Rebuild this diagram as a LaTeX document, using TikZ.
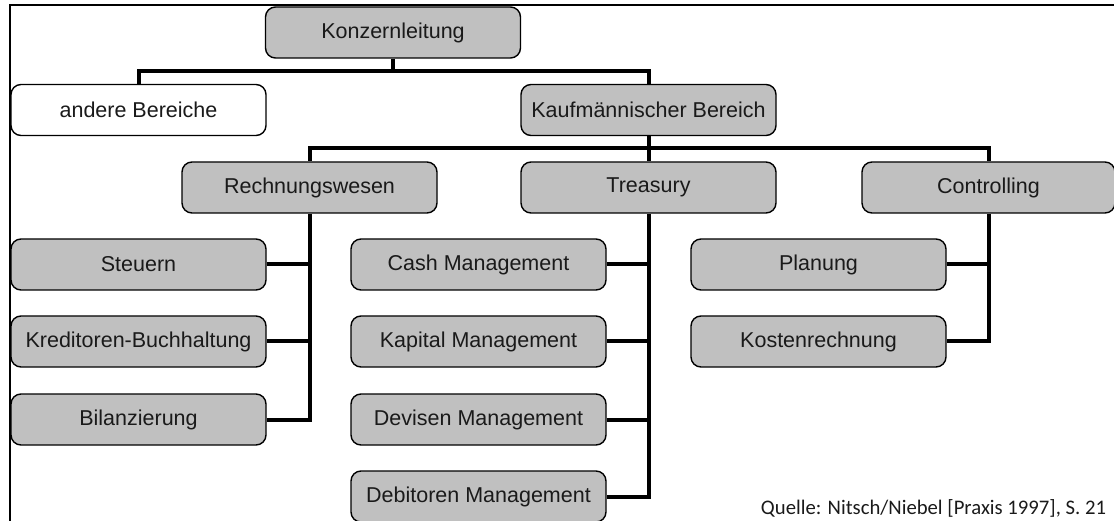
\documentclass[tikz,border=0pt]{standalone}
\usepackage{fontspec}
\setmainfont{Liberation Sans}
\newfontfamily\sourcefont{Carlito}
\definecolor{boxgray}{HTML}{C0C0C0}
\definecolor{inkgray}{HTML}{1A1A1A}
\begin{document}
\begin{tikzpicture}[x=1pt,y=-1pt,
  unit/.style={draw=black, line width=1.4pt, rounded corners=10pt,
    minimum width=255pt, minimum height=51pt, inner sep=0pt,
    fill=boxgray, text=inkgray, font=\fontsize{21.5}{25}\selectfont},
  plain/.style={unit, fill=white},
  link/.style={line width=4pt, draw=black}]
\useasboundingbox (0,0) rectangle (1114,521);

% frame
\draw[line width=2pt] (10,530) -- (10,5) -- (1120,5);

% top levels
\node[unit] (konz) at (393,32.5) {Konzernleitung};
\node[plain] (andere) at (138.5,110) {andere Bereiche};
\node[unit] (kauf) at (648.5,110) {Kaufmännischer Bereich};

\node[unit] (rech) at (309.5,187.5) {Rechnungswesen};
\node[unit] (treas) at (648.5,187.5) {Treasury};
\node[unit, minimum width=253pt] (contr) at (988.5,187.5) {Controlling};

% Rechnungswesen
\node[unit] (steuern) at (138.5,264.5) {Steuern};
\node[unit] (kred) at (138.5,341.5) {Kreditoren-Buchhaltung};
\node[unit] (bilanz) at (138.5,419.5) {Bilanzierung};

% Treasury
\node[unit] (cash) at (478.5,264.5) {Cash Management};
\node[unit] (kap) at (478.5,341.5) {Kapital Management};
\node[unit] (dev) at (478.5,419.5) {Devisen Management};
\node[unit] (debit) at (478.5,496.5) {Debitoren Management};

% Controlling
\node[unit] (plan) at (818.5,264.5) {Planung};
\node[unit] (kost) at (818.5,341.5) {Kostenrechnung};

% connectors
\draw[link] (konz.south) -- ++(0,12) coordinate (k1) -| (andere.north);
\draw[link] (k1) -| (kauf.north);
\draw[link] (kauf.south) -- ++(0,12) coordinate (k2) -| (rech.north);
\draw[link] (k2) -| (treas.north);
\draw[link] (k2) -| (contr.north);

\draw[link] (rech.south) |- (bilanz.east);
\draw[link] (steuern.east) -- (steuern.east -| rech.south);
\draw[link] (kred.east) -- (kred.east -| rech.south);

\draw[link] (treas.south) |- (debit.east);
\draw[link] (cash.east) -- (cash.east -| treas.south);
\draw[link] (kap.east) -- (kap.east -| treas.south);
\draw[link] (dev.east) -- (dev.east -| treas.south);

\draw[link] (contr.south) |- (kost.east);
\draw[link] (plan.east) -- (plan.east -| contr.south);

% source note
\node[anchor=base, inner sep=0pt, text=inkgray, font=\sourcefont\fontsize{20.7}{24}\selectfont]
  (quelle) at (933.5,514) {Quelle: Nitsch/Niebel [Praxis 1997], S. 21};
\end{tikzpicture}
\end{document}
